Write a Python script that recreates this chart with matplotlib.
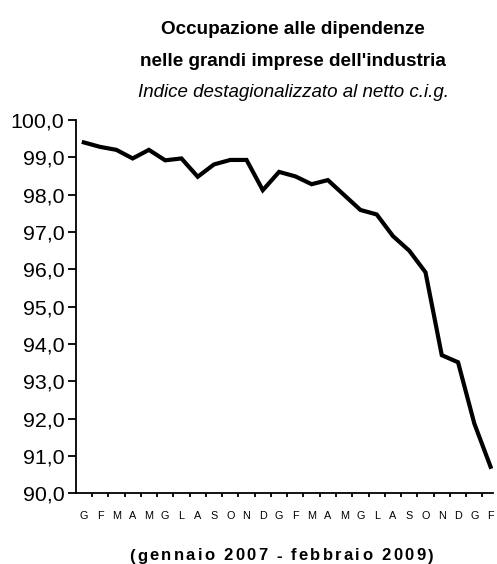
import matplotlib
matplotlib.use("Agg")
import matplotlib.pyplot as plt
from matplotlib.font_manager import FontProperties, findfont
from matplotlib.ft2font import FT2Font
import numpy as np

months = ["G", "F", "M", "A", "M", "G", "L", "A", "S", "O", "N", "D",
          "G", "F", "M", "A", "M", "G", "L", "A", "S", "O", "N", "D",
          "G", "F"]
values = [99.40, 99.28, 99.20, 98.97, 99.20, 98.92, 98.97, 98.48, 98.81, 98.93,
          98.93, 98.12, 98.61, 98.49, 98.28, 98.39, 97.99, 97.59, 97.47, 96.89,
          96.50, 95.92, 93.70, 93.51, 91.87, 90.71]
yticks = [90, 91, 92, 93, 94, 95, 96, 97, 98, 99, 100]
ytick_labels = ["90,0", "91,0", "92,0", "93,0", "94,0", "95,0", "96,0",
                "97,0", "98,0", "99,0", "100,0"]
title1 = "Occupazione alle dipendenze"
title2 = "nelle grandi imprese dell'industria"
subtitle = "Indice destagionalizzato al netto c.i.g."
caption = "(gennaio 2007 - febbraio 2009)"

W, H = 497, 564
fig = plt.figure(figsize=(W / 100, H / 100), dpi=100)
ax_l, ax_r, ax_t, ax_b = 75.7, 493.0, 120.0, 493.3
ax = fig.add_axes([ax_l / W, 1 - ax_b / H, (ax_r - ax_l) / W, (ax_b - ax_t) / H])

x = np.arange(len(values))
ax.plot(x, values, color="black", lw=3.0, solid_joinstyle="miter")

ax.set_xlim(-0.5, -0.5 + (ax_r - ax_l) / 16.27)
ax.set_ylim(90, 100)

for s in ["top", "right"]:
    ax.spines[s].set_visible(False)
for s in ["left", "bottom"]:
    ax.spines[s].set_linewidth(1.3)

font = "Liberation Sans"
ax.set_yticks(yticks)
ax.set_yticklabels(ytick_labels, fontfamily=font, fontsize=15.4)
ax.tick_params(axis="y", length=6, width=1.3, pad=2)

ax.set_xticks(np.arange(len(values) - 1) + 0.5, minor=False)
ax.set_xticklabels([])
ax.tick_params(axis="x", which="major", length=3, width=1.3)
ax.set_xticks(x, minor=True)
ax.set_xticklabels(months, minor=True, fontfamily=font, fontsize=7.8)
ax.tick_params(axis="x", which="minor", length=0, pad=12.5)

cx = 293 / W
fig.text(cx, 1 - 33.5 / H, title1, ha="center", va="baseline",
         fontfamily=font, fontweight="bold", fontsize=13.6)
fig.text(cx, 1 - 65.5 / H, title2, ha="center", va="baseline",
         fontfamily=font, fontweight="bold", fontsize=13.6)
fig.text(cx, 1 - 97 / H, subtitle, ha="center", va="baseline",
         fontfamily=font, fontstyle="italic", fontsize=13.5)

# caption with letter spacing (advance widths from the font itself)
cap_size = 12.0
fp = FontProperties(family=font, weight="bold", size=cap_size)
ft = FT2Font(findfont(fp))
ft.set_size(cap_size, 100)
adv = []
for ch in caption:
    g = ft.load_char(ord(ch))
    adv.append(g.linearHoriAdvance / 65536)
target_left, target_right = 129.5, 433.0
natural = sum(adv)
tracking = (target_right - target_left - natural) / (len(caption) - 1)
x0 = target_left
for ch, a in zip(caption, adv):
    if ch != " ":
        fig.text(x0 / W, 1 - 560.5 / H, ch, ha="left", va="baseline",
                 fontproperties=fp)
    x0 += a + tracking

fig.savefig("out.png", dpi=100)
